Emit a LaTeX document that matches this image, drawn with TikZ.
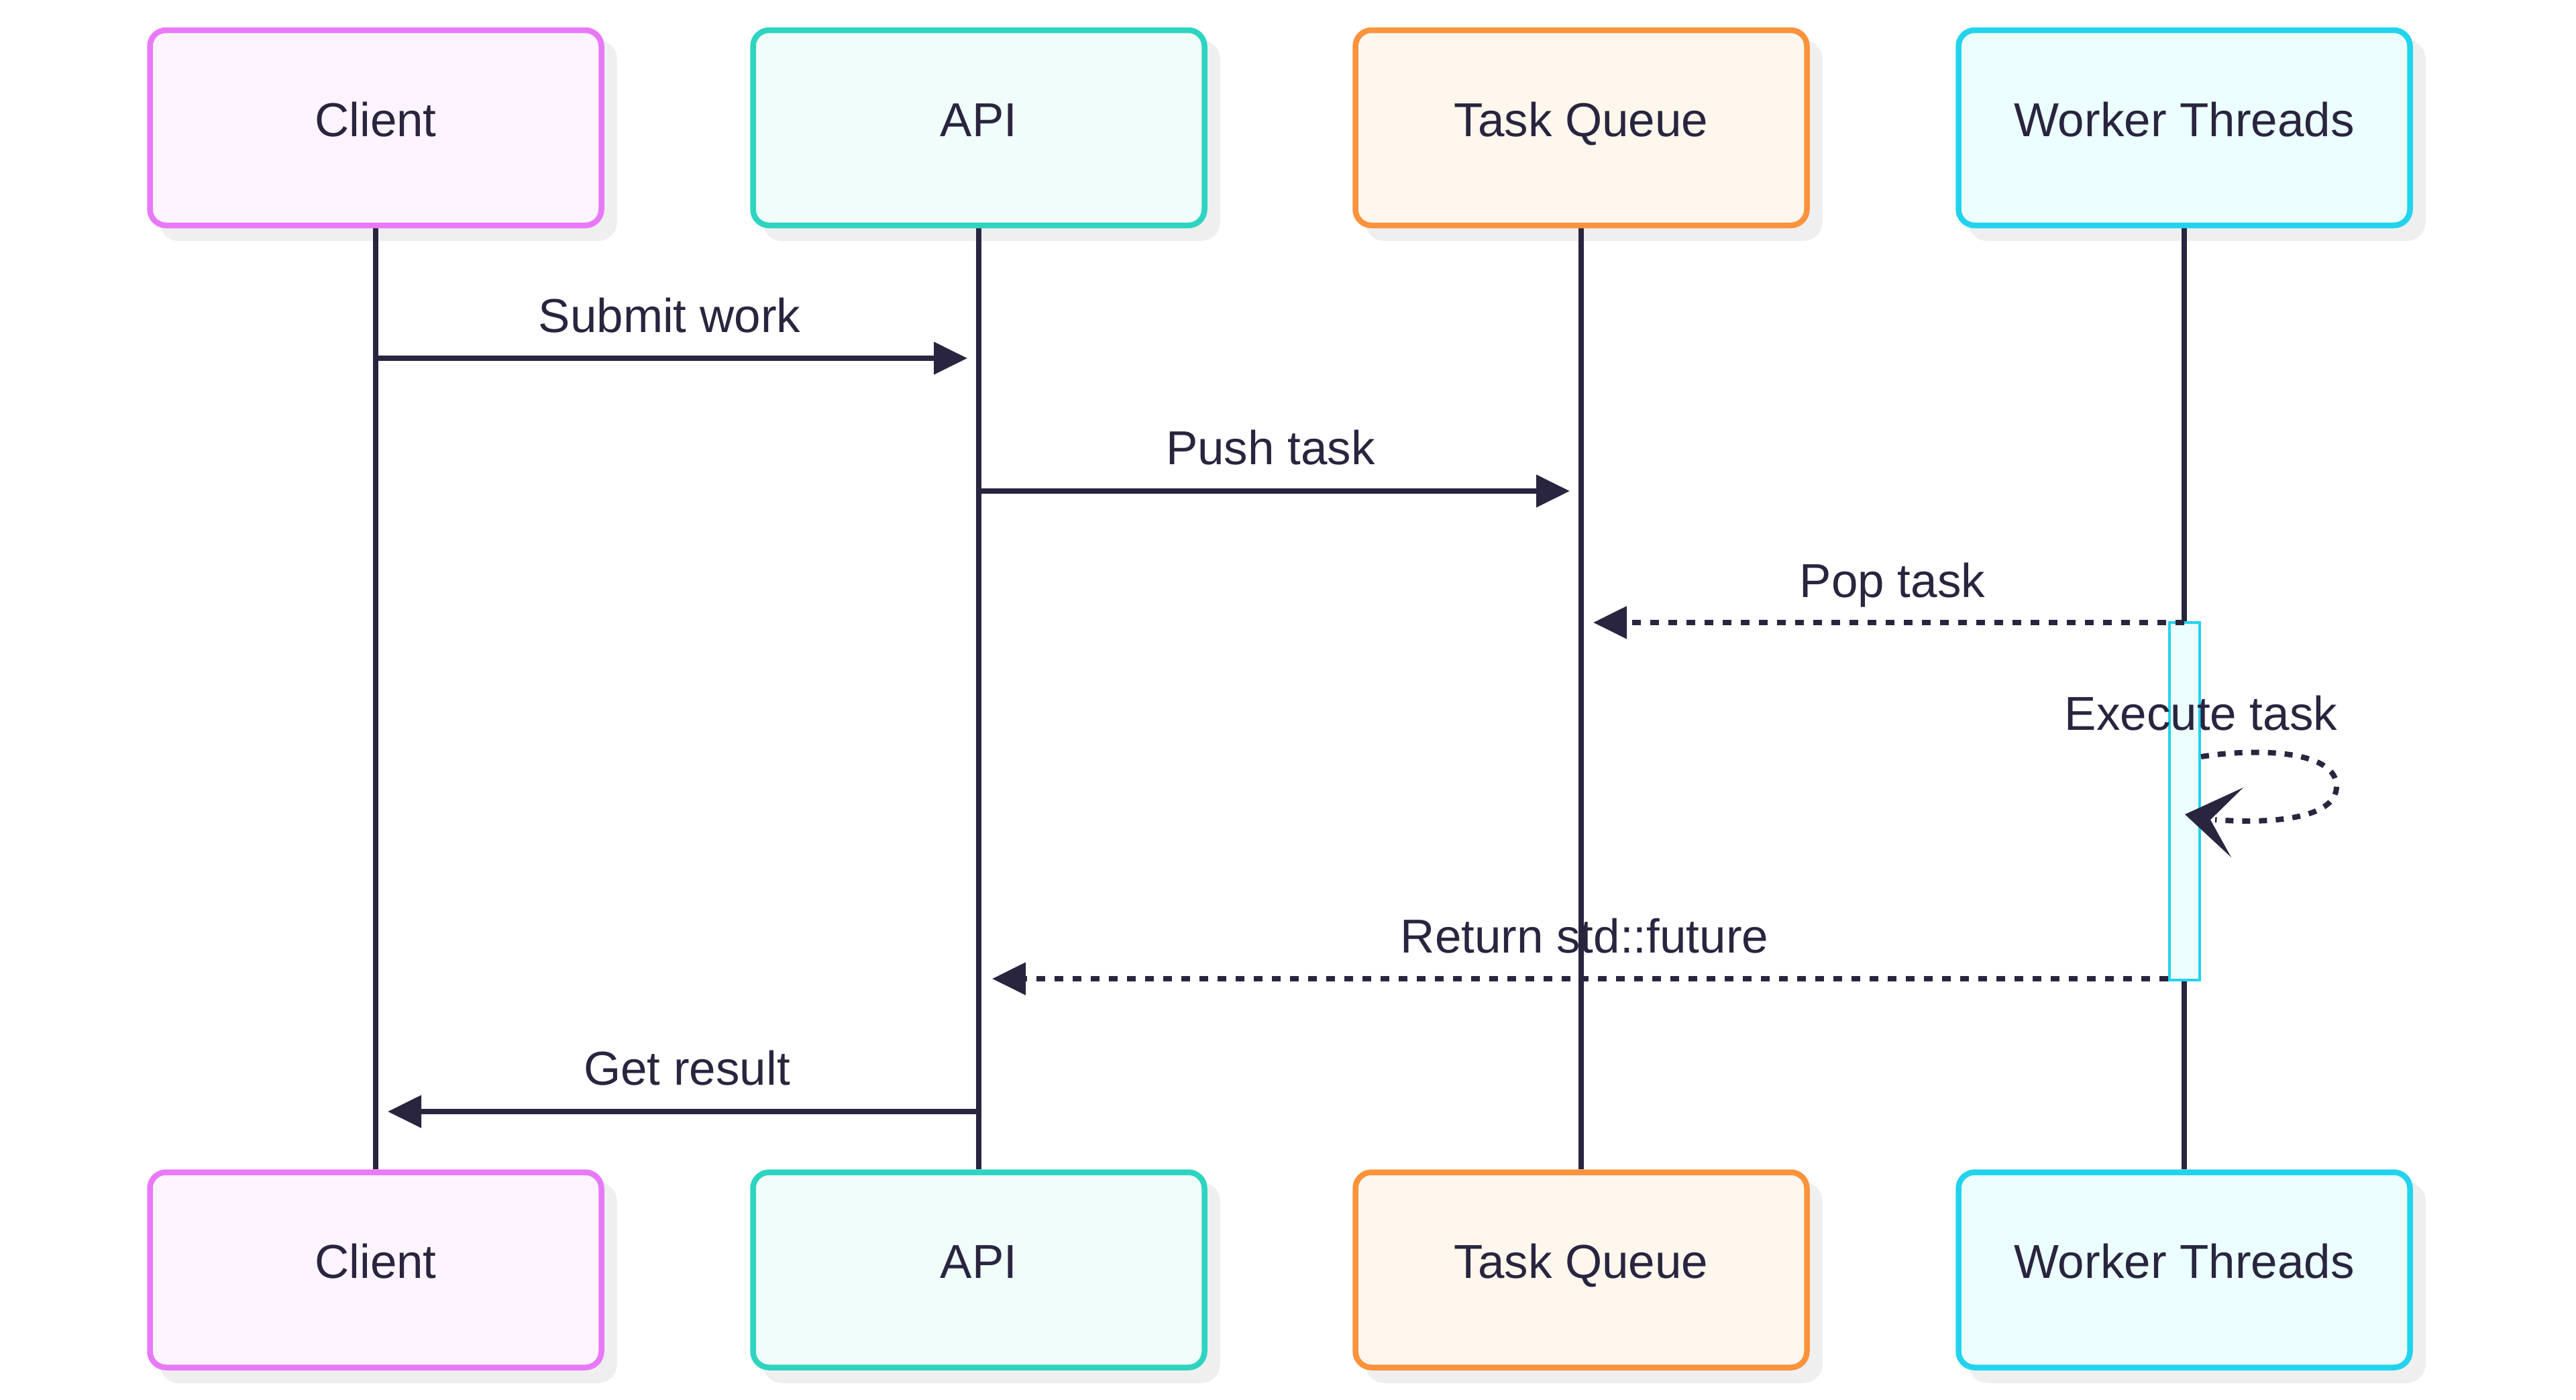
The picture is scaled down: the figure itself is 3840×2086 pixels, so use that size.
\documentclass[tikz,border=0pt]{standalone}
\usepackage{fontspec}
\setmainfont{Liberation Sans}
\usetikzlibrary{arrows.meta}
\definecolor{ink}{HTML}{29253F}
\definecolor{shadowgray}{HTML}{EFEFEF}
\definecolor{clientS}{HTML}{E879F9}
\definecolor{clientF}{HTML}{FDF4FF}
\definecolor{apiS}{HTML}{2DD4BF}
\definecolor{apiF}{HTML}{F0FDFA}
\definecolor{queueS}{HTML}{FB923C}
\definecolor{queueF}{HTML}{FFF7ED}
\definecolor{workerS}{HTML}{22D3EE}
\definecolor{workerF}{HTML}{ECFEFF}
\pgfdeclarelayer{shadowlayer}
\pgfdeclarelayer{lifelayer}
\pgfsetlayers{shadowlayer,lifelayer,main}
\begin{document}
\begin{tikzpicture}[x=1pt,y=-1pt,
  bigfont/.style={font=\fontsize{71pt}{85pt}\selectfont},
  actor/.style={draw, rounded corners=24pt, line width=8.5pt, minimum width=673pt,
    minimum height=291pt, inner sep=0pt, bigfont, text=ink, text height=51pt, text depth=26pt},
  shadowbox/.style={fill=shadowgray, draw=shadowgray, rounded corners=24pt, line width=8.5pt,
    minimum width=673pt, minimum height=291pt, inner sep=0pt},
  lifeline/.style={draw=ink, line width=7.5pt},
  msg/.style={draw=ink, line width=8pt, -{Triangle[length=50pt,width=47pt]}, shorten >=17pt},
  reply/.style={msg, dash pattern=on 13.5pt off 13.5pt},
  msglabel/.style={anchor=base, text=ink, bigfont, inner sep=0pt}
]
\useasboundingbox (0,0) rectangle (3840,2086);
\begin{pgfonlayer}{shadowlayer}
  \fill[white] (0,0) rectangle (3840,2086);
  \node[shadowbox] (clientTs) at (579,209.5) {};
  \node[shadowbox] (apiTs) at (1478,209.5) {};
  \node[shadowbox] (queueTs) at (2376,209.5) {};
  \node[shadowbox] (workerTs) at (3275,209.5) {};
  \node[shadowbox] (clientBs) at (579,1912) {};
  \node[shadowbox] (apiBs) at (1478,1912) {};
  \node[shadowbox] (queueBs) at (2376,1912) {};
  \node[shadowbox] (workerBs) at (3275,1912) {};
\end{pgfonlayer}

% actor boxes
\node[actor, draw=clientS, fill=clientF] (clientT) at (560,190.5) {Client};
\node[actor, draw=apiS, fill=apiF] (apiT) at (1459,190.5) {API};
\node[actor, draw=queueS, fill=queueF] (queueT) at (2357,190.5) {Task Queue};
\node[actor, draw=workerS, fill=workerF] (workerT) at (3256,190.5) {Worker Threads};
\node[actor, draw=clientS, fill=clientF] (clientB) at (560,1893) {Client};
\node[actor, draw=apiS, fill=apiF] (apiB) at (1459,1893) {API};
\node[actor, draw=queueS, fill=queueF] (queueB) at (2357,1893) {Task Queue};
\node[actor, draw=workerS, fill=workerF] (workerB) at (3256,1893) {Worker Threads};

% lifelines
\begin{pgfonlayer}{lifelayer}
  \draw[lifeline] (clientT.south) -- (clientB.north);
  \draw[lifeline] (apiT.south) -- (apiB.north);
  \draw[lifeline] (queueT.south) -- (queueB.north);
  \draw[lifeline] (workerT.south) -- (workerB.north);
\end{pgfonlayer}

% activation
\node[draw=workerS, fill=workerF, line width=4pt, minimum width=45pt, minimum height=533pt,
  inner sep=0pt] (act) at (3256.5,1194.5) {};

% message rows
\coordinate (m1) at (0,534);
\coordinate (m2) at (0,732);
\coordinate (m3) at (0,928);
\coordinate (m4) at (0,1128);
\coordinate (m5) at (0,1459);
\coordinate (m6) at (0,1657);

\draw[msg] (clientT |- m1) -- (apiT |- m1);
\draw[msg] (apiT |- m2) -- (queueT |- m2);
\draw[reply, shorten >=18pt] (workerT |- m3) -- (queueT |- m3);
\draw[ink, line width=8pt, dash pattern=on 12pt off 13pt]
  (act.east |- m4) .. controls (3370,1114) and (3483,1120) .. (3483,1172)
  .. controls (3483,1222) and (3380,1228) .. (3302,1222);
\fill[ink] (3257,1214) -- (3344,1174) -- (3295,1222) -- (3326,1278) -- cycle;
\draw[reply, shorten >=20pt] (act.west |- m5) -- (apiT |- m5);
\draw[msg, shorten >=18pt] (apiT |- m6) -- (clientT |- m6);

% labels
\node[msglabel] (l1) at (998,495) {Submit work};
\node[msglabel] (l2) at (1894,692) {Push task};
\node[msglabel] (l3) at (2821,890) {Pop task};
\node[msglabel] (l4) at (3281,1088) {Execute task};
\node[msglabel] (l5) at (2362,1420) {Return std::future};
\node[msglabel] (l6) at (1024,1617) {Get result};
\end{tikzpicture}
\end{document}
